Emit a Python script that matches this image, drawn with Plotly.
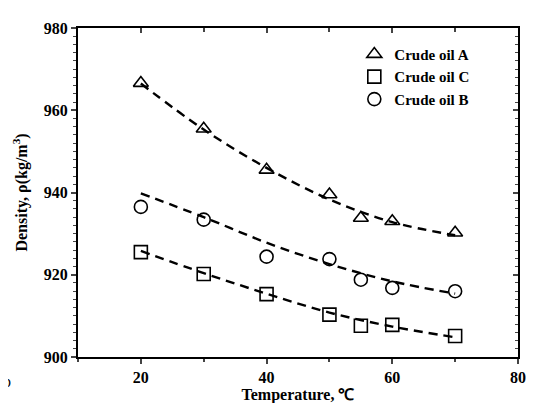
import plotly.graph_objects as go

temps = [20, 30, 40, 50, 55, 60, 70]
oil_a = [966.6, 955.5, 945.5, 939.5, 933.8, 933.0, 930.2]
oil_c = [925.5, 920.2, 915.3, 910.3, 907.6, 907.8, 905.1]
oil_b = [936.5, 933.4, 924.4, 923.8, 918.8, 916.8, 916.0]

fit_x = [20, 30, 40, 50, 60, 70]
fit_a = [966.5, 955.3, 946.0, 938.3, 932.8, 929.6]
fit_c = [925.8, 920.4, 915.4, 910.8, 907.4, 904.8]
fit_b = [939.8, 934.0, 927.8, 922.6, 918.4, 915.4]

x_ticks = [20, 40, 60, 80]
y_ticks = [900, 920, 940, 960, 980]

font = "Liberation Serif"
fig = go.Figure()

for fy in (fit_a, fit_b, fit_c):
    fig.add_trace(go.Scatter(x=fit_x, y=fy, mode="lines", line=dict(color="black", width=2.4, dash="9px,6px", shape="spline"),
                             showlegend=False, hoverinfo="skip"))

for name, ys, sym in (("Crude oil A", oil_a, "triangle-up-open"),
                      ("Crude oil C", oil_c, "square-open"),
                      ("Crude oil B", oil_b, "circle-open")):
    fig.add_trace(go.Scatter(x=temps, y=ys, mode="markers", name=name,
                             marker=dict(symbol=sym, size=13, color="black", line=dict(width=1.6, color="black"))))

axis_common = dict(showline=True, linecolor="black", linewidth=2, showgrid=False, zeroline=False)
fig.update_layout(
    width=534, height=403,
    margin=dict(l=70, r=24, t=19, b=51),
    paper_bgcolor="white", plot_bgcolor="white",
    font=dict(family=font, size=15, color="black"),
    xaxis=dict(range=[10, 80], tickvals=x_ticks, ticks="outside", ticklen=5, tickwidth=2,
               minor=dict(dtick=10, tick0=0, ticks="outside", ticklen=3, tickwidth=1.5),
               tickfont=dict(family=font, size=16, weight="bold"),
               title=dict(text="<b>Temperature, ℃</b>", font=dict(family=font, size=16), standoff=2),
               **axis_common),
    yaxis=dict(range=[900, 980], tickvals=y_ticks, ticks="outside", ticklen=5, tickwidth=2,
               minor=dict(dtick=2, ticks="outside", ticklen=3, tickwidth=1.2),
               tickfont=dict(family=font, size=16, weight="bold"),
               title=dict(text="<b>Density, ρ(kg/m<sup>3</sup>)</b>", font=dict(family=font, size=16), standoff=12),
               **axis_common),
    xaxis2=dict(range=[10, 80], overlaying="x", side="top", tickvals=x_ticks, ticks="inside", ticklen=5, tickwidth=2,
                minor=dict(dtick=10, tick0=0, ticks="inside", ticklen=4, tickwidth=1.5),
                showticklabels=False, **axis_common),
    yaxis2=dict(range=[900, 980], overlaying="y", side="right", tickvals=y_ticks, ticks="inside", ticklen=5, tickwidth=2,
                minor=dict(dtick=2, ticks="inside", ticklen=3, tickwidth=1.2),
                showticklabels=False, **axis_common),
    legend=dict(x=0.628, y=0.97, xanchor="left", yanchor="top", bgcolor="rgba(0,0,0,0)",
                font=dict(family=font, size=15, weight="bold"), itemwidth=30, tracegroupgap=0),
    annotations=[dict(text="b", xref="paper", yref="paper", x=-0.148, y=-0.075, xanchor="right", yanchor="middle",
                      showarrow=False, font=dict(family=font, size=16, color="black"))],
)
fig.add_trace(go.Scatter(x=[None], y=[None], xaxis="x2", yaxis="y2", showlegend=False, hoverinfo="skip"))

fig.write_html("out.html")
